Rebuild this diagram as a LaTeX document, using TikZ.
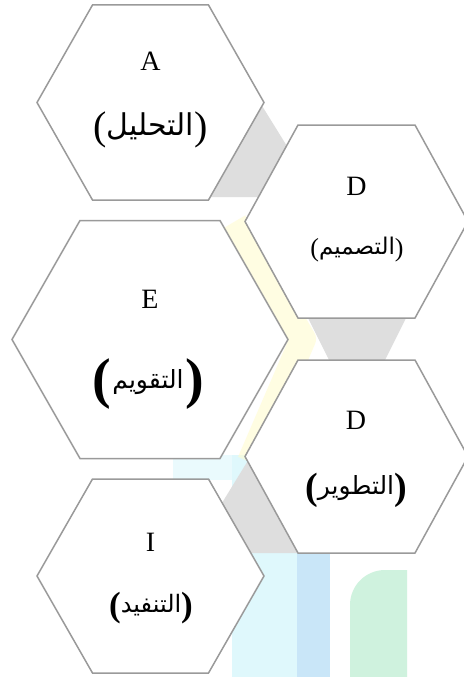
\documentclass[tikz,border=0pt]{standalone}
\usepackage{fontspec}
\setmainfont{Liberation Serif}
\newfontfamily\arabicfont[Script=Arabic]{DejaVu Sans}
\TeXXeTstate=1
\definecolor{hexedge}{HTML}{9A9A9A}
\definecolor{bandgray}{HTML}{DEDEDE}
\definecolor{wmyellow}{HTML}{FFFCCF}
\definecolor{wmcyan}{HTML}{DFF8FC}
\definecolor{wmcyanlight}{HTML}{EAFAFD}
\definecolor{wmblue}{HTML}{C9E6F8}
\definecolor{wmgreen}{HTML}{CFF2DE}
\tikzset{
  hexagonbox/.style={draw=hexedge, line width=1.5pt, fill=white, line join=miter},
  letterlbl/.style={font=\fontsize{28}{30}\selectfont, inner sep=0pt},
  arablbl/.style={inner sep=0pt},
}
\newcommand\parL[2]{\raisebox{-#2pt}{\fontsize{#1}{#1}\selectfont\bfseries (}}
\newcommand\parR[2]{\raisebox{-#2pt}{\fontsize{#1}{#1}\selectfont\bfseries )}}
\newcommand\thinL[2]{\raisebox{-#2pt}{\fontsize{#1}{#1}\selectfont (}}
\newcommand\thinR[2]{\raisebox{-#2pt}{\fontsize{#1}{#1}\selectfont )}}
\begin{document}
\begin{tikzpicture}[x=1pt,y=-1pt]
\useasboundingbox (0,0) rectangle (463,677);
\fill[white] (0,0) rectangle (463,677);
% faint watermark
\fill[wmcyan] (232,455) rectangle (297,677);
\fill[wmcyanlight] (173,455) rectangle (232,480);
\fill[wmblue] (297,545) rectangle (330,677);
\fill[wmgreen] (350,677) -- (350,605) arc[start angle=180, end angle=270, radius=35] -- (407,570) -- (407,677) -- cycle;
% gray connector bands
\fill[bandgray] (259,101) -- (290,151) -- (290,197) -- (195,197) -- cycle;
\fill[bandgray] (304,310) -- (410,310) -- (382.5,365) -- (331.5,365) -- cycle;
\fill[bandgray] (252,454) -- (214,516) -- (214,553) -- (305,553) -- (305,454) -- cycle;
% faint yellow band
\draw[wmyellow, line width=26pt, opacity=0.6, line join=round] (234,222) -- (303,339) -- (250,462);
% hexagons
\draw[hexagonbox] (37,102.5) -- (92.5,5) -- (208.5,5) -- (264,102.5) -- (208.5,200) -- (92.5,200) -- cycle;
\draw[hexagonbox] (245,221.5) -- (298,125) -- (415,125) -- (468,221.5) -- (415,318) -- (298,318) -- cycle;
\draw[hexagonbox] (12,339.5) -- (80,220.5) -- (220,220.5) -- (288,339.5) -- (220,458.5) -- (80,458.5) -- cycle;
\draw[hexagonbox] (245,456.5) -- (298,360) -- (415,360) -- (468,456.5) -- (415,553) -- (298,553) -- cycle;
\draw[hexagonbox] (37,576) -- (92.5,479) -- (208.5,479) -- (264,576) -- (208.5,673) -- (92.5,673) -- cycle;
% labels
\node[letterlbl] (la) at (150.5,61) {A};
\node[arablbl] (ta) at (150.5,130) {\thinL{40}{4}{\fontsize{30}{34}\selectfont\arabicfont\beginR التحليل\endR}\thinR{40}{4}};
\node[letterlbl] (ld1) at (356.5,186) {D};
\node[arablbl] (td1) at (357,250) {\thinL{26}{2}{\fontsize{23}{26}\selectfont\arabicfont\beginR التصميم\endR}\thinR{26}{2}};
\node[letterlbl] (le) at (150,299) {E};
\node[arablbl] (te) at (148,384) {\parL{56}{9}\,{\fontsize{25}{28}\selectfont\arabicfont\beginR التقويم\endR}\,\parR{56}{9}};
\node[letterlbl] (ld2) at (356,420) {D};
\node[arablbl] (td2) at (356,490) {\parL{38}{5}{\fontsize{25}{28}\selectfont\arabicfont\beginR التطوير\endR}\parR{38}{5}};
\node[letterlbl] (li) at (150.5,542) {I};
\node[arablbl] (ti) at (151,608) {\parL{35}{4}{\fontsize{24}{28}\selectfont\arabicfont\beginR التنفيد\endR}\parR{35}{4}};
\end{tikzpicture}
\end{document}
